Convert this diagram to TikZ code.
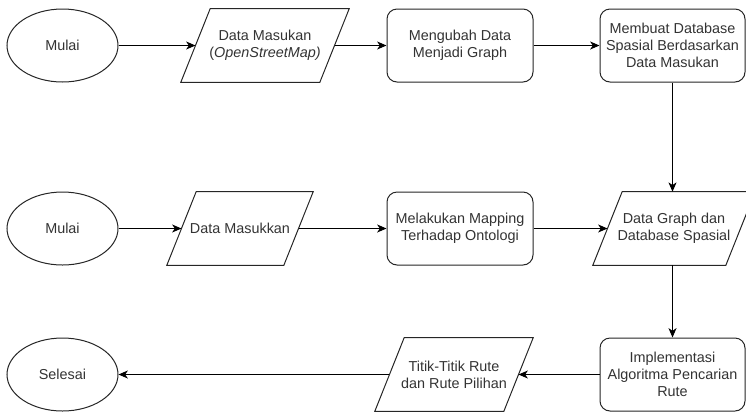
\documentclass[tikz,border=0pt]{standalone}
\usepackage{fontspec}
\setmainfont{Liberation Sans}
\usetikzlibrary{shapes.geometric,arrows.meta}

% outline of an input/output parallelogram around a named node
\newcommand\ioshape[1]{%
  \draw[outline] ([xshift=11pt]#1.north west) -- ([xshift=11pt]#1.north east)
    -- ([xshift=-11pt]#1.south east) -- ([xshift=-11pt]#1.south west) -- cycle;}

\begin{document}
\begin{tikzpicture}[x=0.75pt,y=-0.75pt,
  txt/.style={font=\fontsize{10.8pt}{12.75pt}\selectfont, text=black!80, align=center, inner sep=0pt},
  outline/.style={draw=black!85, line width=0.75pt},
  base/.style={outline, fill=white, txt},
  term/.style={base, ellipse, minimum width=111*0.75pt, minimum height=73*0.75pt},
  proc/.style={base, rectangle, rounded corners=7.5pt, minimum width=146*0.75pt, minimum height=73*0.75pt},
  io/.style={txt, rectangle, minimum height=73*0.75pt, minimum width=#1*0.75pt},
  arr/.style={draw=black, line width=0.75pt, -{Stealth[length=7pt,width=6pt,inset=2pt]}}
]
\clip (0,0) rectangle (746,412);

% first row
\node[term] (e1) at (62.5,45.5) {Mulai};
\node[io=138.5] (p1) at (265,45.5) {Data Masukan\\(\textit{OpenStreetMap)}};
\node[proc] (r1) at (460,45.5) {Mengubah Data\\Menjadi Graph};
\node[proc, minimum width=145*0.75pt] (r2) at (672.5,45.5) {Membuat Database\\Spasial Berdasarkan\\Data Masukan};

% second row
\node[term] (e2) at (62.5,228.5) {Mulai};
\node[io=116.5] (p2) at (240,228.5) {Data Masukkan};
\node[proc] (r3) at (460,228.5) {Melakukan Mapping\\Terhadap Ontologi};
\node[io=132.5] (p3) at (674,228.5) {Data Graph dan\\Database Spasial};

% third row
\node[term] (e3) at (62.5,374.5) {Selesai};
\node[io=128.5] (p4) at (454,374.5) {Titik-Titik Rute\\dan Rute Pilihan};
\node[proc, minimum width=145*0.75pt] (r4) at (672.5,374.5) {Implementasi\\Algoritma Pencarian\\Rute};

\ioshape{p1}
\ioshape{p2}
\ioshape{p3}
\ioshape{p4}

% connectors
\draw[arr] (e1) -- (p1);
\draw[arr] (p1) -- (r1);
\draw[arr] (r1) -- (r2);
\draw[arr] (r2) -- (r2 |- p3.north);
\draw[arr] (e2) -- (p2);
\draw[arr] (p2) -- (r3);
\draw[arr] (r3) -- (p3);
\draw[arr] (r4 |- p3.south) -- (r4);
\draw[arr] (r4) -- (p4);
\draw[arr] (p4) -- (e3);
\end{tikzpicture}
\end{document}
